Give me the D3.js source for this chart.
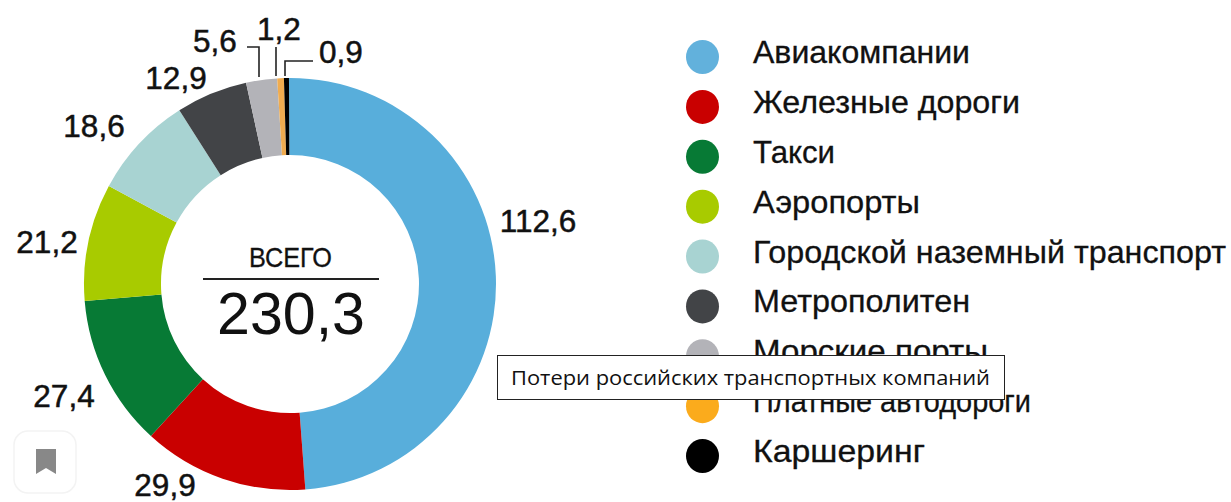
<!DOCTYPE html>
<html><head><meta charset="utf-8">
<script src="https://cdn.jsdelivr.net/npm/d3@7"></script>
<style>html,body{margin:0;padding:0;background:#fff}svg{display:block}text{font-family:"Liberation Sans",Arial,sans-serif;fill:#111}</style>
</head><body><svg id="c" width="1231" height="502"></svg>
<script>
const categories=["Авиакомпании","Железные дороги","Такси","Аэропорты","Городской наземный транспорт","Метрополитен","Морские порты","Платные автодороги","Каршеринг"];
const values=[112.6,29.9,27.4,21.2,18.6,12.9,5.6,1.2,0.9];
const valueLabels=["112,6","29,9","27,4","21,2","18,6","12,9","5,6","1,2","0,9"];
const colors=["#58aedb","#c90000","#077a35","#a8cb00","#a8d3d2","#424447","#b3b3b8","#f0ac50","#000000"];
const legendColors=["#62b1dc","#c90000","#077a35","#a8cb00","#a8d3d2","#424447","#b3b3b8","#fbab1c","#000000"];
const legendWidths=[217,267,82,167,473,217,235,278,172];
const labelPos=[[538,232],[165,496],[64,407],[47,253],[94,137],[176,89],[215,52],[279,40],[341,63]];
const svg=d3.select("#c");
const cx=290,cy=284,R=206,r=129;
const pie=d3.pie().sort(null).value(d=>d).startAngle(-0.005).endAngle(2*Math.PI-0.005);
const arc=d3.arc().innerRadius(r).outerRadius(R);
const g=svg.append("g").attr("transform",`translate(${cx},${cy})`);
g.selectAll("path").data(pie(values)).join("path").attr("d",arc).attr("fill",(d,i)=>colors[i]);
// value labels
svg.selectAll("text.v").data(valueLabels).join("text").attr("class","v")
 .attr("x",(d,i)=>labelPos[i][0]).attr("y",(d,i)=>labelPos[i][1])
 .attr("text-anchor","middle").attr("font-size",31.5).attr("stroke","#111").attr("stroke-width",0.5).text(d=>d);
// leader lines
const leaders=["M247,47H259V77","M276,47V76","M285,76V61H313"];
svg.selectAll("path.l").data(leaders).join("path").attr("class","l").attr("d",d=>d).attr("fill","none").attr("stroke","#222").attr("stroke-width",1.6);
// centre
svg.append("text").attr("x",290.5).attr("y",267).attr("text-anchor","middle").attr("font-size",28).attr("textLength",83).attr("lengthAdjust","spacingAndGlyphs").attr("stroke","#111").attr("stroke-width",0.3).text("ВСЕГО");
svg.append("line").attr("x1",203).attr("x2",379).attr("y1",279).attr("y2",279).attr("stroke","#222").attr("stroke-width",2);
svg.append("text").attr("x",291).attr("y",334).attr("text-anchor","middle").attr("font-size",59).attr("textLength",148).attr("lengthAdjust","spacingAndGlyphs").text("230,3");
// legend
const y=d3.scalePoint().domain(categories).range([57,456]);
const lg=svg.selectAll("g.lg").data(categories).join("g").attr("class","lg").attr("transform",d=>`translate(0,${y(d)})`);
lg.append("ellipse").attr("cx",702.5).attr("rx",16.5).attr("ry",17).attr("fill",(d,i)=>legendColors[i]);
lg.append("text").attr("x",753).attr("y",6).attr("font-size",32).attr("textLength",(d,i)=>legendWidths[i]).attr("lengthAdjust","spacingAndGlyphs").attr("stroke","#111").attr("stroke-width",0.3).text(d=>d);
// bookmark button
svg.append("rect").attr("x",14).attr("y",431).attr("width",62).attr("height",62).attr("rx",14).attr("fill","#fff").attr("stroke","#f3f3f3").attr("stroke-width",1.5);
svg.append("path").attr("d","M36,449H56V474L46,468L36,474Z").attr("fill","#888");
// tooltip
svg.append("rect").attr("x",497.5).attr("y",355.5).attr("width",507).attr("height",44).attr("fill","#fff").attr("stroke","#222").attr("stroke-width",1);
svg.append("text").attr("x",511).attr("y",385).attr("font-size",20.5).attr("textLength",479).attr("lengthAdjust","spacingAndGlyphs").style("font-family","'Open Sans',sans-serif").text("Потери российских транспортных компаний");
</script></body></html>
